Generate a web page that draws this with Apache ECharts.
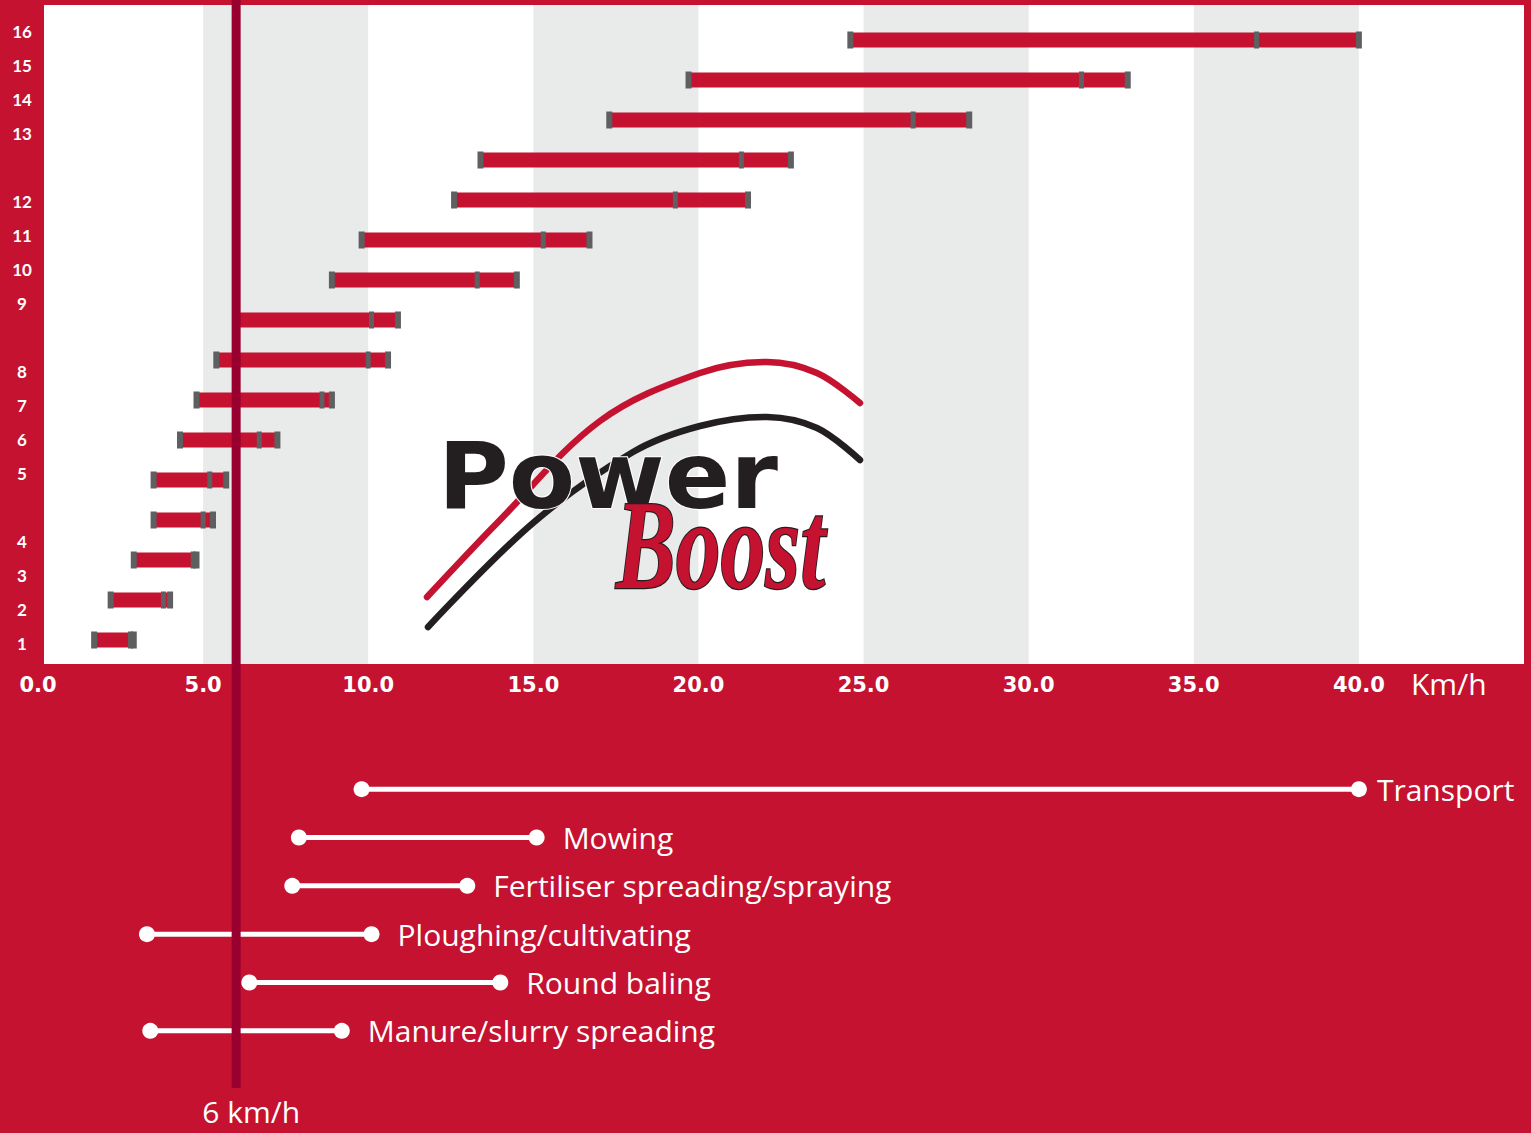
<!DOCTYPE html>
<html>
<head>
<meta charset="utf-8">
<script src="https://cdn.jsdelivr.net/npm/echarts@6/dist/echarts.min.js"></script>
<style>
html,body{margin:0;padding:0;background:#C41230;}
#chart{width:1531px;height:1133px;}
</style>
</head>
<body>
<div id="chart"></div>
<script>
// ---------- DATA ----------
const gears = ['1','2','3','4','5','6','7','8','9','10','11','12','13','14','15','16'];
const gearLow  = [1.7, 2.2, 2.9, 3.5, 3.5, 4.3, 4.8, 5.4, 6.0, 8.9, 9.8, 12.6, 13.4, 17.3, 19.7, 24.6];
const gearMid  = [2.8, 3.8, 4.7, 5.0, 5.2, 6.7, 8.6, 10.0, 10.1, 13.3, 15.3, 19.3, 21.3, 26.5, 31.6, 36.9];
const gearHigh = [2.9, 4.0, 4.8, 5.3, 5.7, 7.25, 8.9, 10.6, 10.9, 14.5, 16.7, 21.5, 22.8, 28.2, 33.0, 40.0];
// gear tick labels, grouped in ranges of four (blank slot between groups)
const gearTickLabels = ['1','2','3','4','','5','6','7','8','','9','10','11','12','','13','14','15','16'];
const tasks = ['Transport','Mowing','Fertiliser spreading/spraying','Ploughing/cultivating','Round baling','Manure/slurry spreading'];
const taskLow  = [9.8, 7.9, 7.7, 3.3, 6.4, 3.4];
const taskHigh = [40.0, 15.1, 13.0, 10.1, 14.0, 9.2];
const refSpeed = [6];
const speedMin = 0, speedMax = 45, speedStep = 5;
const unitLabel = 'Km/h';

// ---------- STYLE ----------
const RED = '#C41230', GREY = '#5E5F61', BAND = '#E9EBEA', DARK = '#980030', INK = '#231F20';

// logo swoosh outlines (decoration only)
const swooshRed = [[427,597],[500,520],[600,421],[700,373],[767,362],[817,373],[860,403]];
const swooshInk = [[428,627],[533,523],[633,452],[700,426],[767,417],[817,428],[860,460]];

const chart = echarts.init(document.getElementById('chart'), null, {renderer: 'svg'});

const hiddenX = (g) => ({gridIndex: g, type: 'value', min: speedMin, max: speedMax, show: false});

const option = {
  backgroundColor: RED,
  animation: false,
  title: {
    text: unitLabel, left: 1411, top: 668, padding: 0,
    textStyle: {color: '#fff', fontFamily: 'Open Sans', fontWeight: 'normal', fontSize: 30}
  },
  grid: [
    {left: 38, right: 7, top: 5, height: 659, outerBoundsMode: 'none'},
    {left: 38, right: 7, top: 20, height: 640, outerBoundsMode: 'none'},
    {left: 44, width: 50, top: 14, height: 646, outerBoundsMode: 'none'},
    {left: 38, right: 7, top: 765, height: 290, outerBoundsMode: 'none'},
    {left: 38, right: 7, top: 0, height: 1088, outerBoundsMode: 'none'}
  ],
  xAxis: [
    {
      gridIndex: 0, type: 'value', min: speedMin, max: speedMax, interval: speedStep,
      axisLine: {show: false}, axisTick: {show: false}, splitLine: {show: false},
      splitArea: {show: true, areaStyle: {color: ['rgba(0,0,0,0)', BAND]}},
      axisLabel: {
        color: '#fff', fontFamily: 'DejaVu Sans', fontWeight: 'bold', fontSize: 21, margin: 10,
        showMaxLabel: false, formatter: v => v.toFixed(1)
      }
    },
    hiddenX(1),
    {gridIndex: 2, type: 'value', min: 0, max: 1, show: false},
    hiddenX(3),
    hiddenX(4)
  ],
  yAxis: [
    {gridIndex: 0, type: 'value', min: 0, max: 1, show: false},
    {gridIndex: 1, type: 'category', data: gears, show: false},
    {
      gridIndex: 2, type: 'category', data: gearTickLabels,
      axisLine: {show: false}, axisTick: {show: false}, splitLine: {show: false},
      axisLabel: {interval: 0, color: '#fff', fontFamily: 'Lato', fontWeight: 'bold', fontSize: 17, align: 'center', margin: 22}
    },
    {gridIndex: 3, type: 'category', data: tasks, inverse: true, show: false},
    {gridIndex: 4, type: 'value', min: 0, max: 1, show: false}
  ],
  graphic: [
    {type: 'rect', z: -1, silent: true, shape: {x: 44, y: 5, width: 1480, height: 659}, style: {fill: '#fff'}},
    // PowerBoost logo
    {type: 'polyline', z: 5, silent: true, shape: {points: swooshRed, smooth: 0.35},
      style: {stroke: RED, lineWidth: 6.5, lineCap: 'round', fill: 'none'}},
    {type: 'polyline', z: 5, silent: true, shape: {points: swooshInk, smooth: 0.35},
      style: {stroke: INK, lineWidth: 6.5, lineCap: 'round', fill: 'none'}},
    {type: 'text', z: 6, silent: true, x: 438, y: 476, scaleX: 1.04,
      style: {text: 'Power', font: 'bold 93px "DejaVu Sans"', fill: INK, stroke: '#fff', lineWidth: 2,
        align: 'left', verticalAlign: 'middle'}},
    {type: 'text', z: 7, silent: true, x: 616, y: 545, scaleX: 0.7,
      style: {text: 'Boost', font: 'italic bold 128px "Liberation Serif"', fill: RED, stroke: INK, lineWidth: 2.5,
        align: 'left', verticalAlign: 'middle'}}
  ],
  series: [
    {
      type: 'custom', name: 'gears', xAxisIndex: 1, yAxisIndex: 1, z: 2,
      data: gears.map((g, i) => [i, gearLow[i], gearMid[i], gearHigh[i]]),
      encode: {x: [1, 2, 3], y: 0},
      renderItem: function (params, api) {
        const y = api.value(0);
        const a = api.coord([api.value(1), y]);
        const m = api.coord([api.value(2), y]);
        const b = api.coord([api.value(3), y]);
        const cy = a[1];
        const cap = (x, w) => ({type: 'rect', shape: {x: x - w / 2, y: cy - 8.5, width: w, height: 17}, style: {fill: GREY}});
        return {type: 'group', children: [
          {type: 'rect', shape: {x: a[0], y: cy - 7.5, width: b[0] - a[0], height: 15}, style: {fill: RED}},
          cap(a[0], 6), cap(m[0], 5), cap(b[0], 6)
        ]};
      }
    },
    {
      type: 'custom', name: 'tasks', xAxisIndex: 3, yAxisIndex: 3, z: 3,
      data: tasks.map((t, i) => [i, taskLow[i], taskHigh[i]]),
      encode: {x: [1, 2], y: 0},
      renderItem: function (params, api) {
        const y = api.value(0);
        const a = api.coord([api.value(1), y]);
        const b = api.coord([api.value(2), y]);
        return {type: 'group', children: [
          {type: 'line', shape: {x1: a[0], y1: a[1], x2: b[0], y2: b[1]}, style: {stroke: '#fff', lineWidth: 5}},
          {type: 'circle', shape: {cx: a[0], cy: a[1], r: 8}, style: {fill: '#fff'}},
          {type: 'circle', shape: {cx: b[0], cy: b[1], r: 8}, style: {fill: '#fff'}},
          {type: 'text', x: b[0] + (params.dataIndex === 0 ? 18 : 26), y: b[1],
            style: {text: tasks[params.dataIndex], fill: '#fff', font: '30px "Open Sans"', align: 'left', verticalAlign: 'middle'}}
        ]};
      }
    },
    {
      type: 'custom', name: 'reference', xAxisIndex: 4, yAxisIndex: 4, z: 10,
      data: refSpeed.map(v => [v]),
      encode: {x: 0},
      renderItem: function (params, api) {
        const v = api.value(0);
        const top = api.coord([v, 1]);
        const bot = api.coord([v, 0]);
        return {type: 'group', children: [
          {type: 'rect', shape: {x: top[0] - 4.5, y: top[1], width: 9, height: bot[1] - top[1]}, style: {fill: DARK}},
          {type: 'text', x: top[0] + 15, y: bot[1] + 23,
            style: {text: v + ' km/h', fill: '#fff', font: '30px "Open Sans"', align: 'center', verticalAlign: 'middle'}}
        ]};
      }
    }
  ]
};
chart.setOption(option);
</script>
</body>
</html>
